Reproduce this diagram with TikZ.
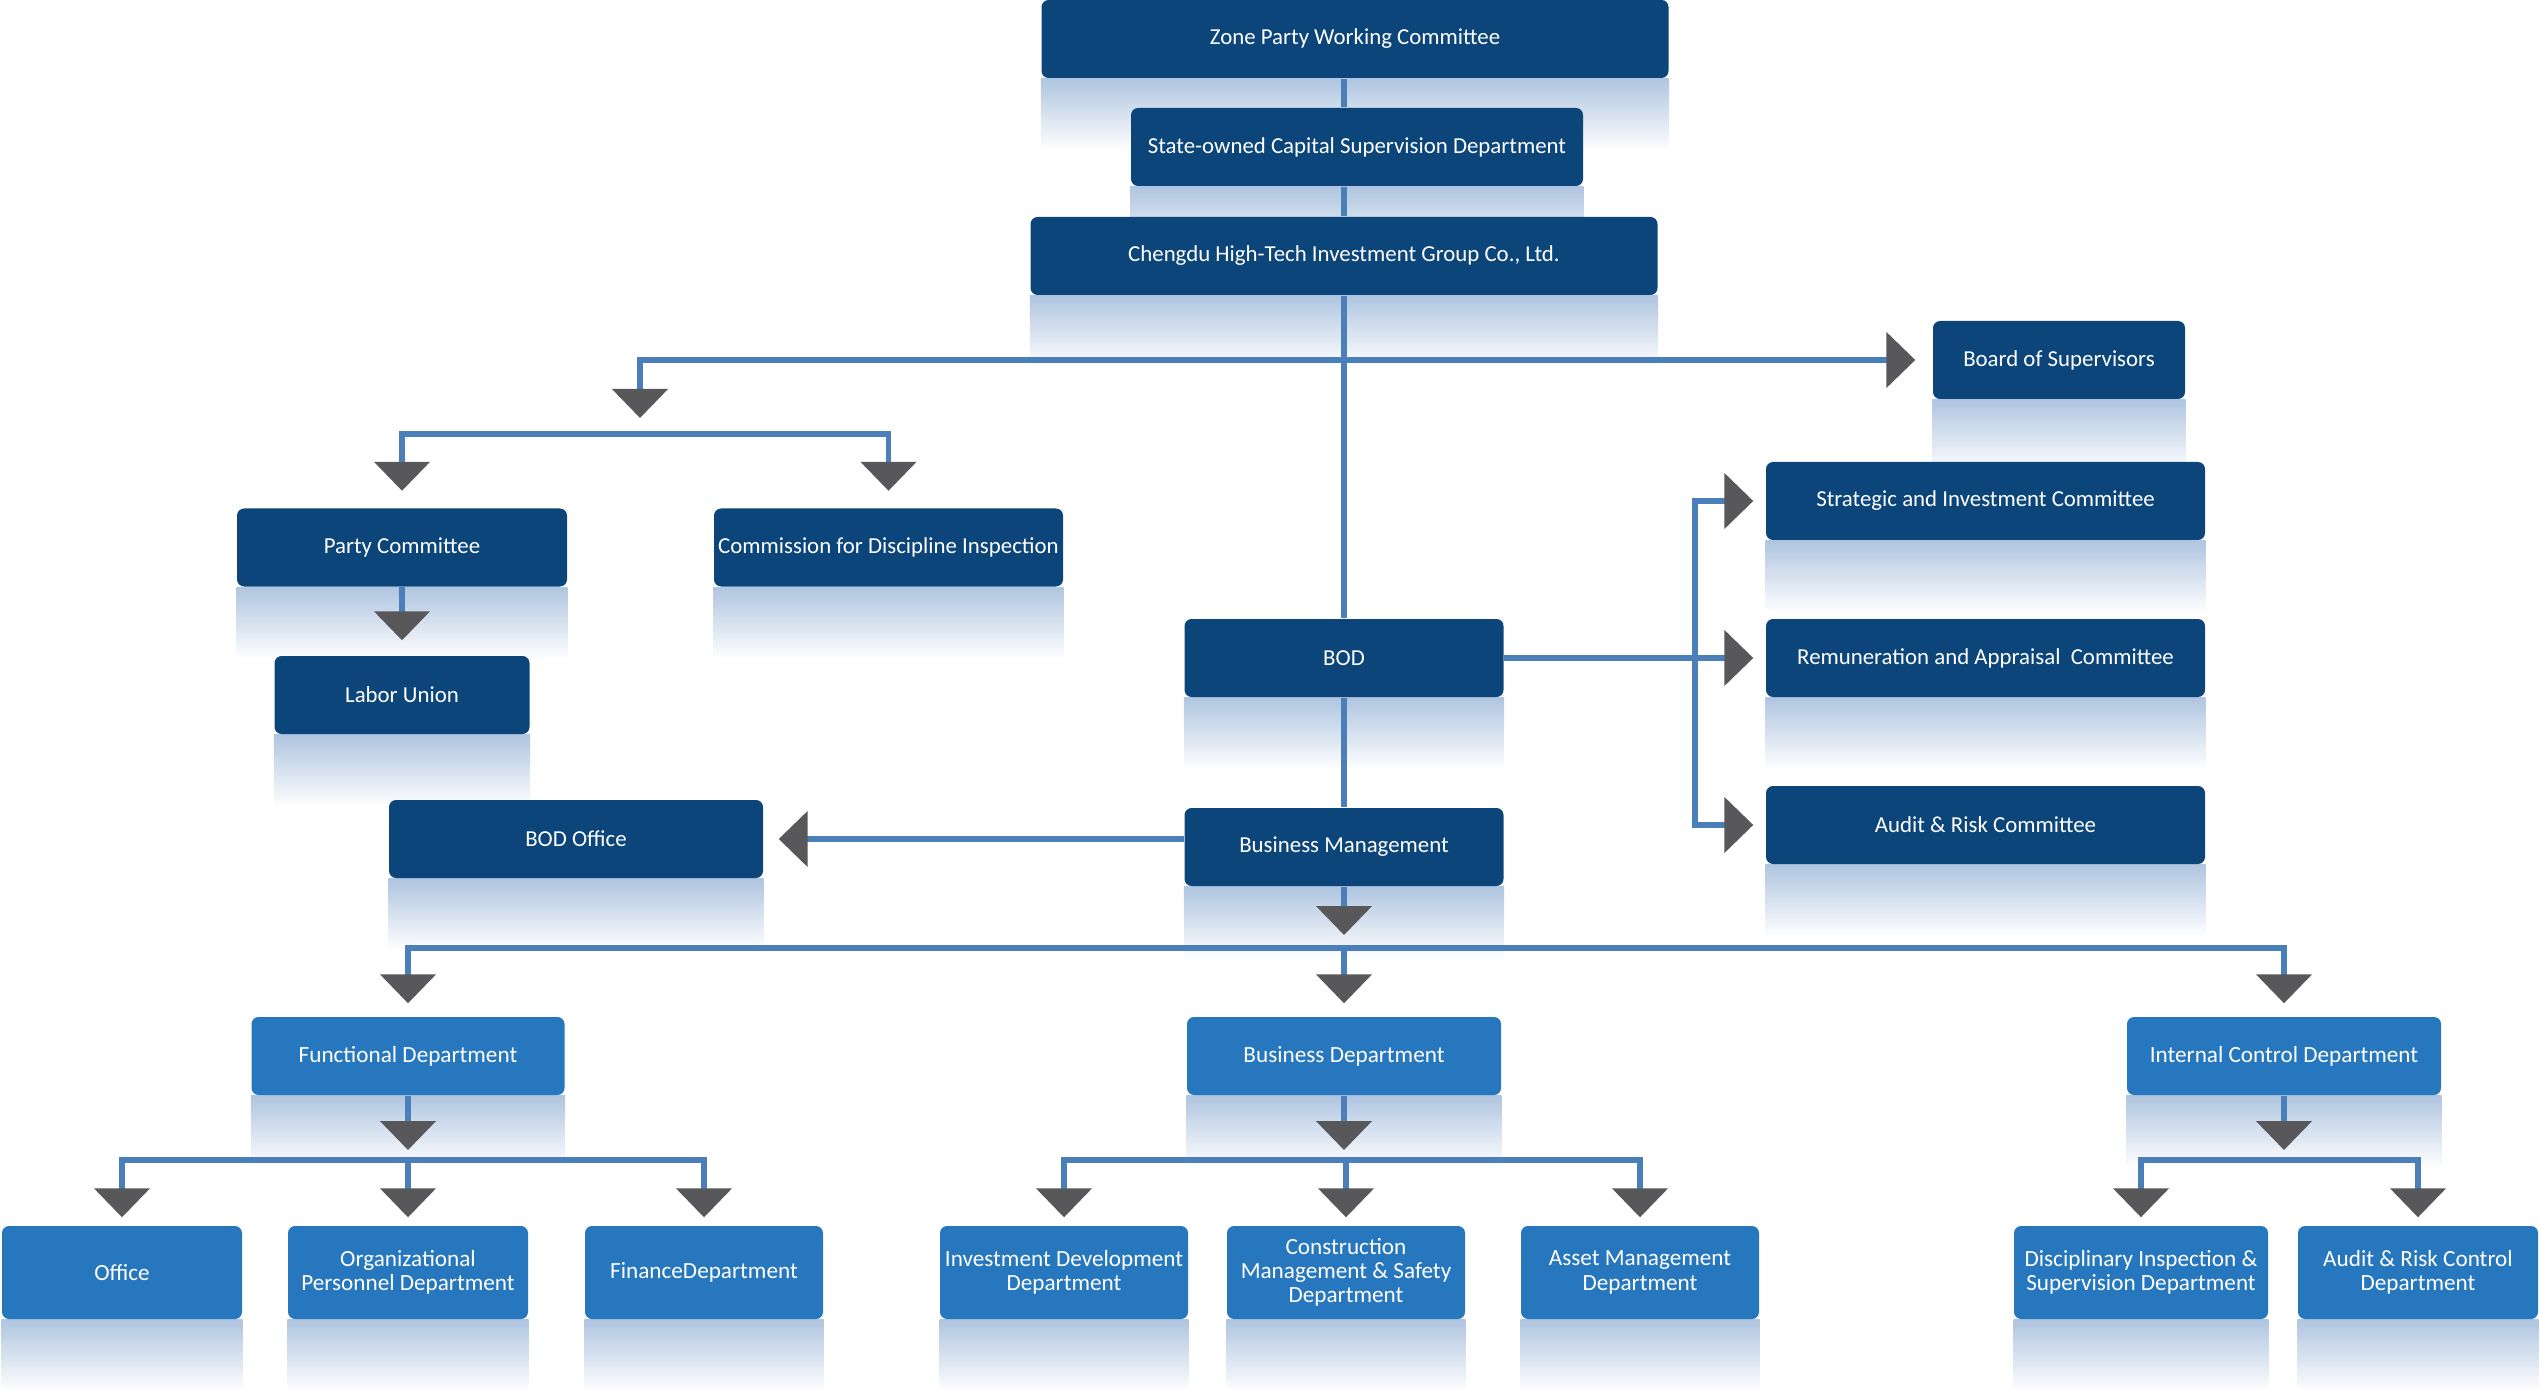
\documentclass[tikz,border=0pt]{standalone}
\usepackage{fontspec}
\setmainfont{Carlito}
\usetikzlibrary{arrows.meta, positioning, backgrounds}
\definecolor{navy}{RGB}{12,69,122}
\definecolor{deptblue}{RGB}{38,119,190}
\definecolor{linkblue}{RGB}{74,127,186}
\definecolor{tipgray}{RGB}{88,88,91}
\definecolor{reflect}{RGB}{175,197,224}

\begin{document}
\begin{tikzpicture}[
    govbox/.style={fill=navy, text=white, rounded corners=2pt, minimum height=0.78cm, inner sep=1pt, font=\fontsize{6.5}{7}\selectfont},
    dept/.style={fill=deptblue, text=white, rounded corners=2pt, minimum height=0.78cm, inner sep=1pt, align=center, font=\fontsize{6.6}{6.9}\selectfont},
    unitbox/.style={dept, minimum height=0.93cm},
    wire/.style={draw=linkblue, line width=1.5pt},
    arrow/.style={wire, -{Triangle[width=0.55cm, length=0.29cm, color=tipgray]}, shorten >=0.13cm}
]
\useasboundingbox (0,0) rectangle (25.40,-13.89);

% Leadership chain
\node[govbox, minimum width=6.27cm] (zone) at (13.55,-0.39) {Zone Party Working Committee};
\node[govbox, minimum width=4.52cm] (state) at (13.57,-1.47) {State-owned Capital Supervision Department};
\node[govbox, minimum width=6.27cm] (group) at (13.44,-2.56) {Chengdu High-Tech Investment Group Co., Ltd.};
\node[govbox, minimum width=2.52cm] (bos) at (20.59,-3.60) {Board of Supervisors};

% Party side
\node[govbox, minimum width=3.30cm] (party) at (4.02,-5.475) {Party Committee};
\node[govbox, minimum width=3.49cm] (cdi) at (8.885,-5.475) {Commission for Discipline Inspection};
\node[govbox, minimum width=2.55cm] (labor) at (4.02,-6.95) {Labor Union};

% Board and committees
\node[govbox, minimum width=3.19cm] (bod) at (13.44,-6.58) {BOD};
\node[govbox, minimum width=4.39cm] (sic) at (19.855,-5.01) {Strategic and Investment Committee};
\node[govbox, minimum width=4.39cm] (rac) at (19.855,-6.58) {Remuneration and Appraisal~~Committee};
\node[govbox, minimum width=4.39cm] (arc) at (19.855,-8.25) {Audit \& Risk Committee};
\node[govbox, minimum width=3.19cm] (bm) at (13.44,-8.47) {Business Management};
\node[govbox, minimum width=3.74cm] (bodo) at (5.76,-8.39) {BOD Office};

% Departments
\node[dept, minimum width=3.13cm] (fd) at (4.08,-10.56) {Functional Department};
\node[dept, minimum width=3.14cm] (bd) at (13.44,-10.56) {Business Department};
\node[dept, minimum width=3.14cm] (icd) at (22.84,-10.56) {Internal Control Department};

\node[unitbox, minimum width=2.40cm] (office) at (1.22,-12.725) {Office};
\node[unitbox, minimum width=2.40cm] (org) at (4.08,-12.725) {Organizational\\Personnel Department};
\node[unitbox, minimum width=2.38cm] (fin) at (7.04,-12.725) {FinanceDepartment};
\node[unitbox, minimum width=2.48cm] (inv) at (10.64,-12.725) {Investment Development\\Department};
\node[unitbox, minimum width=2.38cm] (cons) at (13.46,-12.725) {Construction\\Management \& Safety\\Department};
\node[unitbox, minimum width=2.38cm] (asset) at (16.40,-12.725) {Asset Management\\Department};
\node[unitbox, minimum width=2.54cm] (disc) at (21.41,-12.725) {Disciplinary Inspection \&\\Supervision Department};
\node[unitbox, minimum width=2.40cm] (arcd) at (24.18,-12.725) {Audit \& Risk Control\\Department};

% reflections
\begin{pgfonlayer}{background}
\foreach \n in {zone,state,group,bos,party,cdi,labor,bod,sic,rac,arc,bm,bodo,fd,bd,icd,office,org,fin,inv,cons,asset,disc,arcd} {
    \shade[top color=reflect, bottom color=white] (\n.south west) rectangle ([yshift=-0.72cm]\n.south east);
}
\end{pgfonlayer}

% junctions
\coordinate (hub) at (13.44,-3.60);
\coordinate (split) at (6.40,-4.34);
\coordinate (side) at (16.95,-6.58);
\coordinate (base) at (13.44,-9.48);
\coordinate (fdsplit) at (4.08,-11.60);
\coordinate (bdsplit) at (13.44,-11.60);
\coordinate (icsplit) at (22.84,-11.60);

% connectors
\draw[wire] (zone.south -| group.north) -- (state.north -| group.north);
\draw[wire] (state.south -| group.north) -- (group.north);
\draw[wire] (group) -- (bod);
\draw[arrow, shorten >=0.17cm] (hub) -- (bos);
\draw[arrow, shorten >=0.16cm] (hub) -| (split);
\draw[arrow, shorten >=0.17cm] (split) -| (party);
\draw[arrow, shorten >=0.17cm] (split) -| (cdi);
\draw[arrow, shorten >=0.15cm] (party) -- (labor);

\draw[wire] (bod) -- (side);
\draw[arrow, shorten >=0.12cm] (side) |- (sic);
\draw[arrow, shorten >=0.12cm] (side) -- (rac);
\draw[arrow, shorten >=0.12cm] (side) |- (arc);

\draw[wire] (bod) -- (bm);
\draw[arrow, shorten >=0.15cm] (bodo.east -| bm.west) -- (bodo.east);
\draw[arrow] (bm) -- (base);
\foreach \d in {fd,bd,icd}
    \draw[arrow] (base) -| (\d);

\draw[arrow, shorten >=0.10cm] (fd) -- (fdsplit);
\draw[arrow, shorten >=0.10cm] (bd) -- (bdsplit);
\draw[arrow, shorten >=0.10cm] (icd) -- (icsplit);
\foreach \u in {office,org,fin}
    \draw[arrow, shorten >=0.08cm] (fdsplit) -| (\u);
\foreach \u in {inv,cons,asset}
    \draw[arrow, shorten >=0.08cm] (bdsplit) -| (\u);
\foreach \u in {disc,arcd}
    \draw[arrow, shorten >=0.08cm] (icsplit) -| (\u);

\end{tikzpicture}
\end{document}
